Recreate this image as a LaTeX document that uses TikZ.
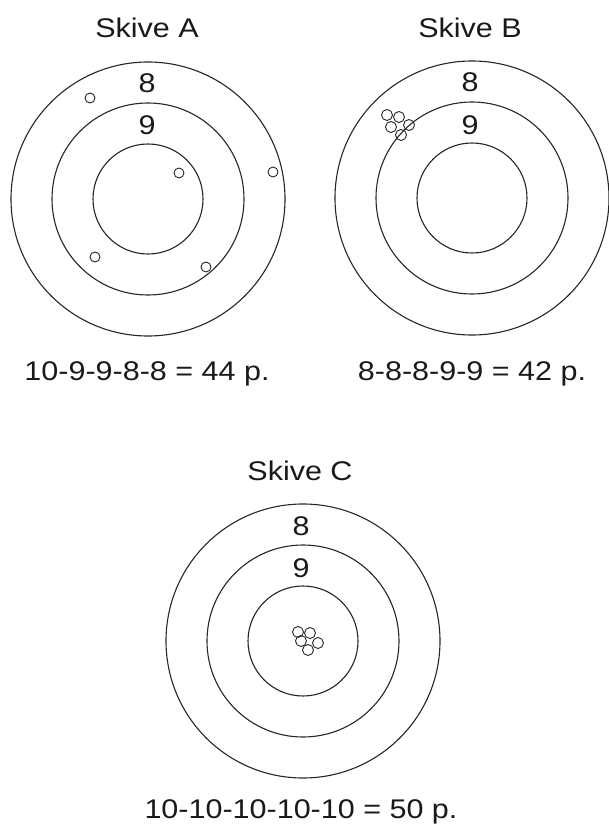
\documentclass[tikz,border=0pt]{standalone}
\usepackage{fontspec}
\setmainfont[FakeStretch=1.13]{Liberation Sans}
\tikzset{
  ring/.style={draw=black!85, line width=1.1pt},
  shot/.style={draw=black!85, line width=0.9pt},
  lab/.style={font=\fontsize{27}{30}\selectfont, anchor=base, inner sep=0pt, text=black!90},
}
\begin{document}
\begin{tikzpicture}[x=1pt,y=-1pt]
\useasboundingbox (0,0) rectangle (608,829);
% Target A
\coordinate (A) at (148,199);
\foreach \r in {137,96,55} \draw[ring] (A) circle[radius=\r];
\node[lab] (titleA) at (147,38) {Skive A};
\node[lab] (eightA) at (147,93) {8};
\node[lab] (nineA) at (147,135) {9};
\foreach \p in {(90,98),(179,173),(273,172),(95,257),(206,267)} \draw[shot] \p circle[radius=5];
\node[lab] (scoreA) at (147,380) {10-9-9-8-8 = 44 p.};
% Target B
\coordinate (B) at (472,198);
\foreach \r in {137,96,55} \draw[ring] (B) circle[radius=\r];
\node[lab] (titleB) at (470,38) {Skive B};
\node[lab] (eightB) at (470,92) {8};
\node[lab] (nineB) at (470,135) {9};
\foreach \p in {(387,115),(399,117),(391,127),(409,125),(401,135)} \draw[shot] \p circle[radius=5.5];
\node[lab] (scoreB) at (472,380) {8-8-8-9-9 = 42 p.};
% Target C
\coordinate (C) at (303,641);
\foreach \r in {137,96,55} \draw[ring] (C) circle[radius=\r];
\node[lab] (titleC) at (300,480) {Skive C};
\node[lab] (eightC) at (301,535) {8};
\node[lab] (nineC) at (301,577) {9};
\foreach \p in {(298,632),(310,633),(301,641),(318,643),(308,650)} \draw[shot] \p circle[radius=5.5];
\node[lab] (scoreC) at (301,818) {10-10-10-10-10 = 50 p.};
\end{tikzpicture}
\end{document}
